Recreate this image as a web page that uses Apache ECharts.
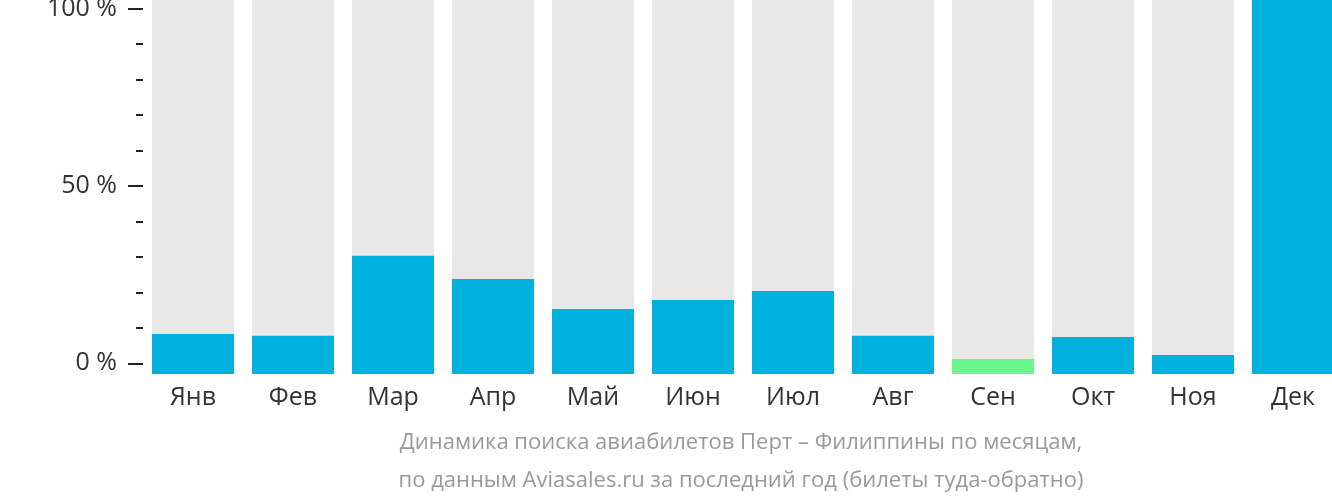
<!DOCTYPE html>
<html>
<head>
<meta charset="utf-8">
<script src="https://cdn.jsdelivr.net/npm/echarts@6/dist/echarts.min.js"></script>
<style>
html,body{margin:0;padding:0;background:#fff;}
#chart{width:1332px;height:502px;}
</style>
</head>
<body>
<div id="chart"></div>
<script>
// Data
var months = ['Янв','Фев','Мар','Апр','Май','Июн','Июл','Авг','Сен','Окт','Ноя','Дек'];
// bar height as share of the full column height (%)
var values = [10.7, 10.2, 31.6, 25.4, 17.4, 19.8, 22.2, 10.2, 4.0, 9.9, 5.1, 100];
var lowMonth = 'Сен';
var majorTicks = [0, 50, 100];
var minorTicks = [10, 20, 30, 40, 60, 70, 80, 90];
var subtitleLines = ['Динамика поиска авиабилетов Перт – Филиппины по месяцам,',
                     'по данным Aviasales.ru за последний год (билеты туда-обратно)'];

var BLUE = '#00b1dd', GREEN = '#6cf58a', GREY = '#e8e8e8';
var FONT = '"Open Sans", "Noto Sans", sans-serif';

var chart = echarts.init(document.getElementById('chart'), null, {renderer: 'canvas'});
var scaleMin = -3, scaleMax = 102.45;

chart.setOption({
  animation: false,
  grid: {left: 143, width: 1200, top: 0, bottom: 128, containLabel: false, outerBoundsMode: 'none'},
  xAxis: {
    type: 'category',
    data: months,
    axisLine: {show: false},
    axisTick: {show: false},
    axisLabel: {fontFamily: FONT, fontSize: 25, color: '#333', margin: 11}
  },
  yAxis: [
    {type: 'value', min: 0, max: 100, show: false},
    {
      type: 'value', min: scaleMin, max: scaleMax, position: 'left',
      axisLine: {show: false},
      splitLine: {show: false},
      axisTick: {show: true, length: 15, customValues: majorTicks, lineStyle: {color: '#222', width: 2}},
      axisLabel: {customValues: majorTicks, formatter: '{value} %', fontFamily: FONT, fontSize: 25, color: '#333', margin: 26, padding: [4, 0, 0, 0]}
    },
    {
      type: 'value', min: scaleMin, max: scaleMax, position: 'left',
      axisLine: {show: false},
      splitLine: {show: false},
      axisTick: {show: true, length: 7, customValues: minorTicks, lineStyle: {color: '#222', width: 2}},
      axisLabel: {show: false}
    }
  ],
  series: [{
    type: 'bar',
    yAxisIndex: 0,
    barWidth: 82,
    showBackground: true,
    backgroundStyle: {color: GREY},
    data: values.map(function (v, i) {
      return {value: v, itemStyle: {color: months[i] === lowMonth ? GREEN : BLUE}};
    })
  }],
  graphic: subtitleLines.map(function (t, i) {
    return {
      type: 'text', x: 741, y: 443 + i * 38,
      style: {text: t, fill: '#999', fontFamily: FONT, fontSize: 22, textAlign: 'center', textVerticalAlign: 'middle'}
    };
  })
});
</script>
</body>
</html>
